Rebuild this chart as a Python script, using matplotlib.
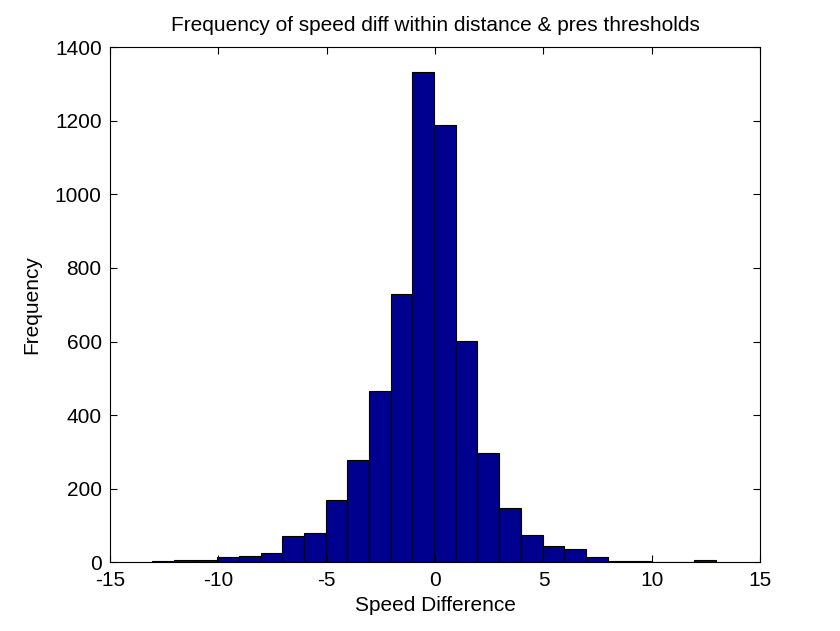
import matplotlib
matplotlib.use("Agg")
import matplotlib.pyplot as plt
import numpy as np

plt.rcParams['font.family'] = ['Liberation Sans', 'DejaVu Sans']
plt.rcParams['axes.unicode_minus'] = False

bin_start = -13.06
bin_width = 1.001
counts = [3, 5, 5, 14, 18, 25, 70, 80, 168, 278, 466, 728, 1332, 1188, 602, 298, 148, 75, 45, 35, 15, 4, 4, 0, 0, 5]
xticks = [-15, -10, -5, 0, 5, 10, 15]
yticks = [0, 200, 400, 600, 800, 1000, 1200, 1400]

fig = plt.figure(figsize=(8.4, 6.31), dpi=100)
ax = fig.add_axes([0.131, 0.109, 0.774, 0.816])
edges = bin_start + bin_width * np.arange(len(counts))
ax.bar(edges, counts, width=bin_width, align='edge', color='#00008f', edgecolor='black', linewidth=0.8)
ax.set_xlim(-15, 15)
ax.set_ylim(0, 1400)
ax.set_xticks(xticks)
ax.set_yticks(yticks)
ax.tick_params(direction='in', labelsize=15, top=True, right=True, length=5, pad=6)
ax.set_xlabel('Speed Difference', fontsize=15, labelpad=5)
ax.set_ylabel('Frequency', fontsize=15, labelpad=10)
ax.set_title('Frequency of speed diff within distance & pres thresholds', fontsize=15, pad=12)
fig.savefig('out.png')
